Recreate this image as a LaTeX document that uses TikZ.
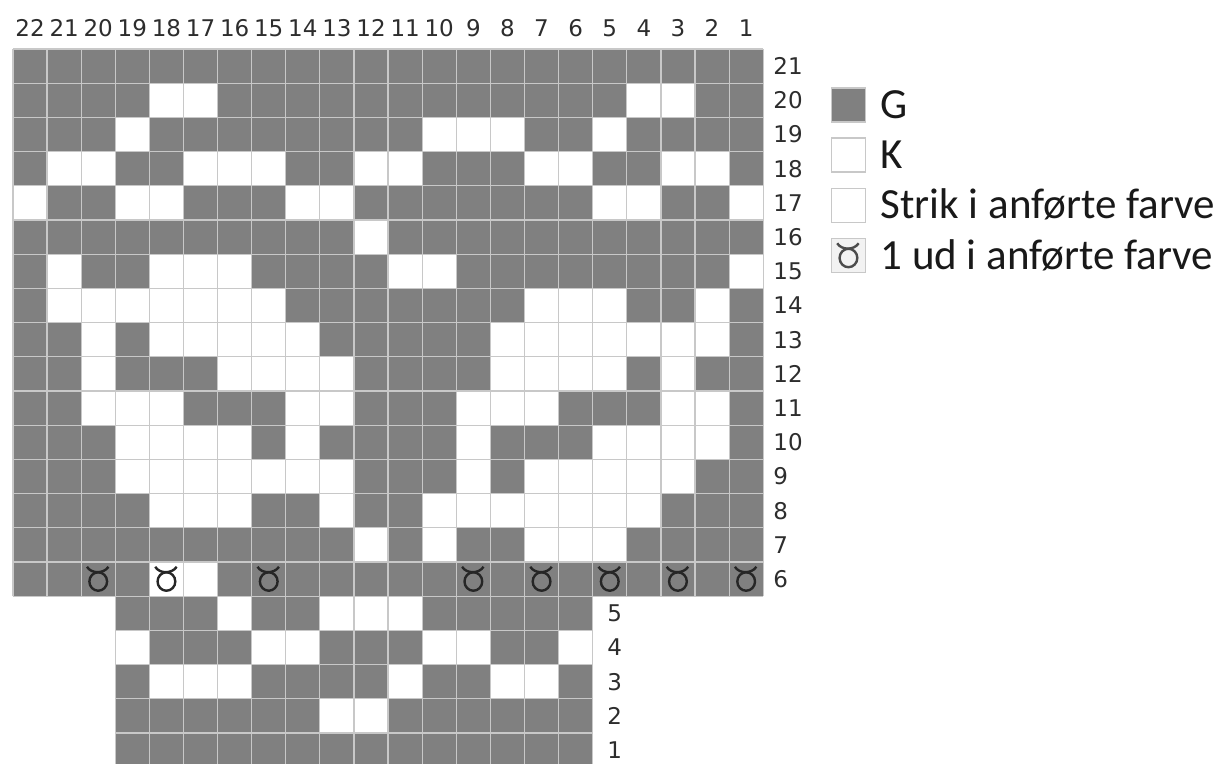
\documentclass[tikz,border=0pt]{standalone}
\usepackage{fontspec}
\setmainfont{Carlito}
\newfontfamily\chartfont{DejaVu Sans}
\usepackage{tikz}
\usetikzlibrary{calc}
\usepackage{xcolor}
\definecolor{stitchgray}{RGB}{128,128,128}
\definecolor{linegray}{RGB}{200,200,200}
\definecolor{labelgray}{RGB}{45,45,45}
\newcommand{\udmark}[3][black!85]{%
\begin{scope}[shift={({#2},{#3})}]
\draw[#1, line width=1.2pt] (0.5,0.43) ellipse (0.26 and 0.27);
\draw[#1, line width=1.2pt] (0.17,0.86) .. controls (0.3,0.65) and (0.66,0.65) .. (0.8,0.86);
\end{scope}}

\begin{document}
\begin{tikzpicture}[x=17.05pt, y=17.1pt,
  cellline/.style={draw=linegray, line width=0.6pt},
  numlabel/.style={font=\chartfont\fontsize{11.5}{12}\selectfont, text=labelgray, inner sep=0pt},
  keybox/.style={draw=linegray, line width=0.8pt, minimum size=17pt, inner sep=0pt},
  keytext/.style={font=\fontsize{21.5}{24}\selectfont, text=black!90, anchor=base west, inner sep=0pt}]
\useasboundingbox (-0.381,0.117) rectangle (35.22,22.433);
\fill[stitchgray] (0,5) rectangle (22,21) (3,0) rectangle (17,5);
\foreach \r/\cl in {20/{18,17,4,3}, 19/{19,10,9,8,5},
  18/{21,20,17,16,15,12,11,7,6,3,2}, 17/{22,19,18,14,13,5,4,1},
  16/{12}, 15/{21,18,17,16,11,10,1}, 14/{21,20,19,18,17,16,15,7,6,5,2},
  13/{20,18,17,16,15,14,8,7,6,5,4,3,2}, 12/{20,16,15,14,13,8,7,6,5,3},
  11/{20,19,18,14,13,9,8,7,3,2}, 10/{19,18,17,16,14,9,5,4,3,2},
  9/{19,18,17,16,15,14,13,9,7,6,5,4,3}, 8/{18,17,16,13,10,9,8,7,6,5,4},
  7/{12,10,7,6,5}, 6/{18,17}, 5/{16,13,12,11}, 4/{19,15,14,10,9,6},
  3/{18,17,16,11,8,7}, 2/{13,12}}
  \foreach \c in \cl
    \fill[white] ({22-\c},{\r-1}) rectangle ++(1,1);
\draw[cellline, step=1] (0,5) grid (22,21) (3,0) grid (17,5);
\foreach \c in {20,18,15,9,7,5,3,1}
  \udmark{22-\c}{5};
\foreach \c in {1,...,22}
  \node[numlabel] (col\c) at ({22.5-\c},21.61) {\c};
\foreach \r in {6,...,21}
  \node[numlabel, anchor=west] (row\r) at (22.29,{\r-0.5}) {\r};
\foreach \r in {1,...,5}
  \node[numlabel, anchor=west] (row\r) at (17.42,{\r-0.5}) {\r};
\node[keybox, fill=stitchgray] (keyG) at (24.5,19.36) {};
\node[keybox, fill=white] (keyK) at (24.5,17.90) {};
\node[keybox, fill=white] (keyStrik) at (24.5,16.42) {};
\node[keybox, fill=black!5] (keyUd) at (24.5,14.96) {};
\udmark[black!70]{24}{14.46}
\node[keytext] (txtG) at (25.43,18.965) {G};
\node[keytext] (txtK) at (25.43,17.505) {K};
\node[keytext] (txtStrik) at (25.43,16.03) {Strik i anførte farve};
\node[keytext] (txtUd) at (25.43,14.55) {1 ud i anførte farve};
\end{tikzpicture}
\end{document}
